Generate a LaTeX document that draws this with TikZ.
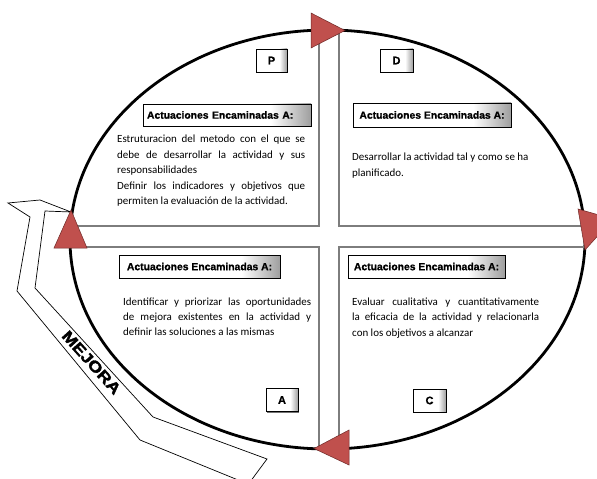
\documentclass[tikz,border=0pt]{standalone}
\usepackage{fontspec}
\setmainfont{Carlito}
\newfontfamily\hdrfont[FakeBold=0.9]{Liberation Sans Bold}
\newfontfamily\bandfont[FakeBold=1.8]{Liberation Sans Bold}
\usetikzlibrary{shadows}

\definecolor{cyclered}{RGB}{192,80,77}
\definecolor{cycleedge}{RGB}{110,40,38}
\definecolor{divider}{RGB}{125,125,125}

% white box that darkens towards its right edge
\pgfdeclarehorizontalshading{hdrshade}{100bp}{color(0bp)=(white); color(25bp)=(white); color(63bp)=(white); color(75bp)=(black!38); color(100bp)=(black!38)}

% one line stretched to the full width of the paragraph
\newcommand\fullline[1]{\makebox[\linewidth][s]{#1}\\}

\tikzset{
  cycle/.style={draw=black, line width=2.8bp},
  quadline/.style={draw=divider, line width=1.4bp},
  turn/.style={fill=cyclered, draw=cycleedge, line width=0.5bp},
  mejora/.style={fill=white, draw=black, line width=0.7bp, line join=miter},
  shadowbox/.style={draw=black, line width=0.8bp, shading=hdrshade,
    drop shadow={shadow xshift=1.3bp, shadow yshift=-1.3bp, fill=black!55, opacity=1}},
  hdr/.style={shadowbox, inner xsep=0bp, inner ysep=0bp, minimum height=23bp,
    font=\hdrfont\fontsize{10.4}{12}\selectfont},
  letterbox/.style={shadowbox, inner sep=0bp, minimum width=32bp, minimum height=23bp,
    font=\hdrfont\fontsize{11}{12}\selectfont},
  body/.style={anchor=base west, inner sep=0bp, font=\fontsize{11}{15.4}\selectfont},
}

\begin{document}
\begin{tikzpicture}
\begin{scope}[x=1bp, y=-1bp]
  \useasboundingbox (0,0) rectangle (597,479);
  \fill[white] (0,0) rectangle (597,479);

  % MEJORA band with its head against the cycle
  \draw[mejora] (71,212) -- (40,200) -- (8,203) -- (30,217) -- (17,291) -- (140,440)
     -- (243,482) -- (250,482) -- (267,459) -- (153,417) -- (35,288) -- (45,211) -- cycle;
  \node[rotate=-48, inner sep=0bp,
        font=\bandfont\fontsize{15.5}{16}\selectfont] (mejora) at (91.5,362.5)
        {\scalebox{1.2}[1]{MEJORA}};

  % the cycle
  \draw[cycle, fill=white] (327.5,239.5) ellipse [x radius=257.5, y radius=209.5];

  % quadrant borders
  \begin{scope}
    \clip (327.5,239.5) ellipse [x radius=257.5, y radius=209.5];
    \draw[quadline] (0,226) -| (319,0);
    \draw[quadline] (597,226) -| (339,0);
    \draw[quadline] (0,247) -| (319,479);
    \draw[quadline] (597,247) -| (339,479);
  \end{scope}

  % quadrant letters
  \node[letterbox, minimum width=31bp] (p) at (271.5,60.5) {P};
  \node[letterbox, minimum width=33bp] (d) at (396.5,60.5) {D};
  \node[letterbox] (a) at (282,400) {A};
  \node[letterbox, minimum width=33bp] (c) at (429.5,400.5) {C};

  % headings
  \node[hdr, text width=160bp, align=left, inner xsep=4bp, minimum height=22bp] (hp) at (227,115) {Actuaciones Encaminadas A:};
  \node[hdr, minimum width=158bp, minimum height=24bp] (hd) at (432,115) {Actuaciones Encaminadas A:};
  \node[hdr, minimum width=161bp] (ha) at (199.5,266.5) {Actuaciones Encaminadas A:};
  \node[hdr, minimum width=157bp] (hc) at (426.5,266.5) {Actuaciones Encaminadas A:};

  % texts
  \node[body] (tp) at (117,143) {\parbox[t]{188bp}{%
    \fullline{Estruturacion del metodo con el que se}%
    \fullline{debe de desarrollar la actividad y sus}%
    responsabilidades\\
    \fullline{Definir los indicadores y objetivos que}%
    permiten la evaluación de la actividad.}};
  \node[body] (td) at (352,161) {\parbox[t]{200bp}{%
    Desarrollar la actividad tal y como se ha\\
    planificado.}};
  \node[body] (ta) at (123,305) {\parbox[t]{188bp}{%
    \fullline{Identificar y priorizar las oportunidades}%
    \fullline{de mejora existentes en la actividad y}%
    definir las soluciones a las mismas}};
  \node[body] (tc) at (352,305.5) {\parbox[t]{187bp}{%
    \fullline{Evaluar cualitativa y cuantitativamente}%
    \fullline{la eficacia de la actividad y relacionarla}%
    con los objetivos a alcanzar}};

  % turning points of the cycle
  \draw[turn] (311,13) -- (345,30.5) -- (311,48) -- cycle;
  \draw[turn] (578,209) -- (613,219) -- (585,250) -- cycle;
  \draw[turn] (349,430) -- (314,448.5) -- (349,465) -- cycle;
  \draw[turn] (54,248) -- (71,210) -- (87,248) -- cycle;
\end{scope}
\end{tikzpicture}
\end{document}
